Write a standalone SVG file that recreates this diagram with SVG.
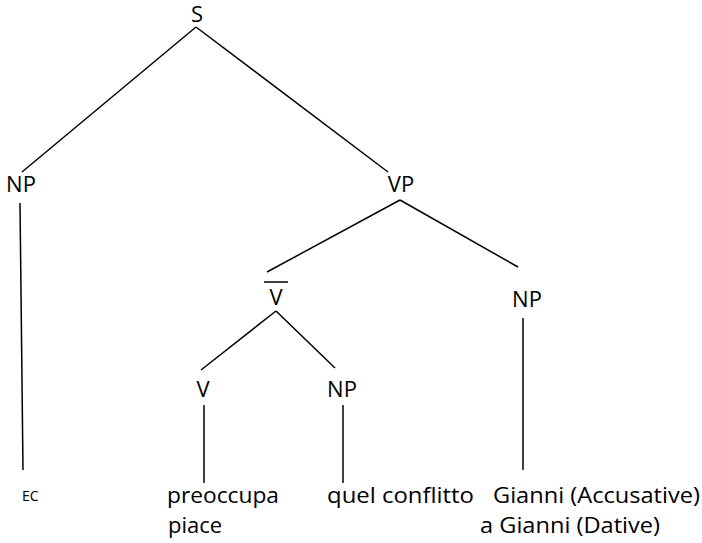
<svg xmlns="http://www.w3.org/2000/svg" width="702" height="543" viewBox="0 0 702 543">
<style>
text{font-family:"Open Sans","Noto Sans","Liberation Sans",sans-serif;font-size:22px;fill:#000}
.c{text-anchor:middle}
.sm{font-size:14px}
line{stroke:#000;stroke-width:1.5}
</style>
<rect width="702" height="543" fill="#fff"/>
<g id="connectors">
<line x1="196" y1="27" x2="22" y2="172"/>
<line x1="196" y1="27" x2="388" y2="172"/>
<line x1="20" y1="203" x2="23" y2="470"/>
<line x1="400" y1="200" x2="267" y2="272"/>
<line x1="400" y1="200" x2="518" y2="267"/>
<line x1="276" y1="311" x2="201" y2="370"/>
<line x1="276" y1="311" x2="335" y2="368"/>
<line x1="523" y1="318" x2="523" y2="470"/>
<line x1="204" y1="405" x2="204" y2="483"/>
<line x1="343" y1="405" x2="343" y2="483"/>
</g>
<g id="S"><text class="c" x="197" y="22" font-size="21">S</text></g>
<g id="NP1"><text class="c" x="21" y="192">NP</text></g>
<g id="VP"><text class="c" x="401" y="192">VP</text></g>
<g id="Vbar"><line x1="264" y1="282" x2="288" y2="282"/><text class="c" x="276" y="305">V</text></g>
<g id="NP2"><text class="c" x="527" y="307">NP</text></g>
<g id="V"><text class="c" x="203" y="397">V</text></g>
<g id="NP3"><text class="c" x="342" y="397">NP</text></g>
<g id="EC"><text class="sm" x="22" y="501">EC</text></g>
<g id="preoccupa"><text x="167" y="503" textLength="112" lengthAdjust="spacingAndGlyphs">preoccupa</text><text x="168" y="533">piace</text></g>
<g id="quel"><text x="327" y="503" textLength="147" lengthAdjust="spacingAndGlyphs">quel conflitto</text></g>
<g id="Gianni"><text x="493" y="503" textLength="207" lengthAdjust="spacingAndGlyphs">Gianni (Accusative)</text><text x="480" y="533" textLength="180" lengthAdjust="spacingAndGlyphs">a Gianni (Dative)</text></g>
</svg>
